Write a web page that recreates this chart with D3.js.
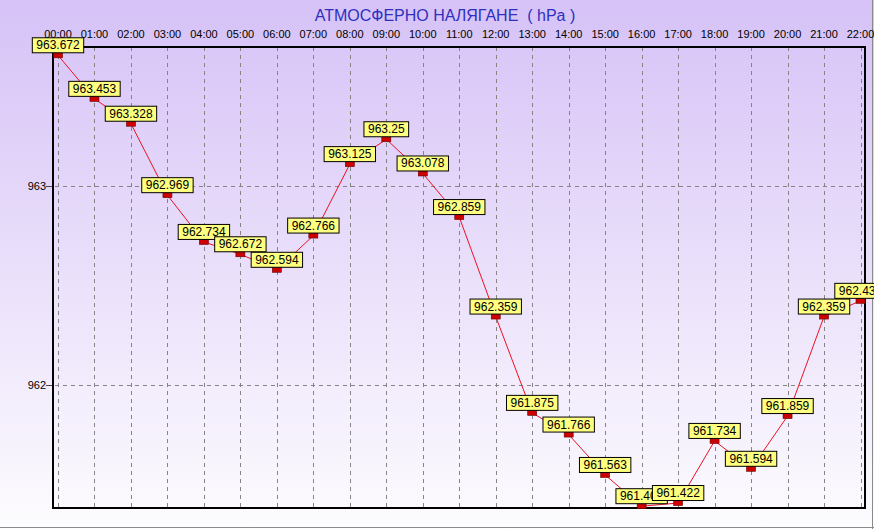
<!DOCTYPE html>
<html>
<head>
<meta charset="utf-8">
<script src="https://cdn.jsdelivr.net/npm/d3@7"></script>
<style>
  body { margin: 0; padding: 0; background: #fff; }
  svg { display: block; font-family: Arial, "Liberation Sans", sans-serif; }
</style>
</head>
<body>
<div id="chart"></div>
<script>
// hourly readings
var hours = ["00:00", "01:00", "02:00", "03:00", "04:00", "05:00", "06:00", "07:00",
             "08:00", "09:00", "10:00", "11:00", "12:00", "13:00", "14:00", "15:00",
             "16:00", "17:00", "18:00", "19:00", "20:00", "21:00", "22:00"];
var pressure = [963.672, 963.453, 963.328, 962.969, 962.734, 962.672, 962.594, 962.766,
                963.125, 963.25, 963.078, 962.859, 962.359, 961.875, 961.766, 961.563,
                961.406, 961.422, 961.734, 961.594, 961.859, 962.359, 962.438];
var yTicks = [962, 963];
var title = "АТМОСФЕРНО НАЛЯГАНЕ  ( hPa )";

var width = 874,
    height = 529;

var plot = {left: 53, top: 47, right: 865, bottom: 508};

var svg = d3.select("#chart")
  .append("svg")
  .attr("width", width)
  .attr("height", height);

var defs = svg.append("defs");
var grad = defs.append("linearGradient")
  .attr("id", "bg")
  .attr("x1", "0%").attr("y1", "0%")
  .attr("x2", "0%").attr("y2", "100%");
grad.append("stop").attr("offset", "0%").attr("stop-color", "#d6c2f7");
grad.append("stop").attr("offset", "100%").attr("stop-color", "#fdfcfe");

svg.append("rect")
  .attr("width", width)
  .attr("height", height)
  .style("fill", "url(#bg)");

// outer frame (right / bottom only)
svg.append("line")
  .attr("x1", width - 1.5).attr("x2", width - 1.5)
  .attr("y1", 0).attr("y2", height)
  .style("stroke", "#8a8a8a");
svg.append("line")
  .attr("x1", 0).attr("x2", width)
  .attr("y1", height - 1.5).attr("y2", height - 1.5)
  .style("stroke", "#8a8a8a");

var x = d3.scalePoint()
  .domain(hours)
  .range([58, 860.5]);

var y = d3.scaleLinear()
  .domain([962, 963])
  .range([385, 186]);

var markerDy = 3; // markers sit slightly under the value

// title
svg.append("text")
  .attr("x", 445)
  .attr("y", 21)
  .attr("text-anchor", "middle")
  .style("font-size", "16px")
  .style("fill", "#2f2fc0")
  .style("white-space", "pre")
  .attr("xml:space", "preserve")
  .text(title);

// grid
var grid = svg.append("g");
grid.selectAll(".vgrid")
  .data(hours)
  .enter()
  .append("line")
  .attr("x1", function(d) { return Math.round(x(d)) + 0.5; })
  .attr("x2", function(d) { return Math.round(x(d)) + 0.5; })
  .attr("y1", plot.top)
  .attr("y2", plot.bottom)
  .style("stroke", "#858585")
  .style("stroke-dasharray", "4,4");

grid.selectAll(".hgrid")
  .data(yTicks)
  .enter()
  .append("line")
  .attr("x1", plot.left - 6)
  .attr("x2", plot.right)
  .attr("y1", function(d) { return Math.round(y(d)) + 0.5; })
  .attr("y2", function(d) { return Math.round(y(d)) + 0.5; })
  .style("stroke", "#858585")
  .style("stroke-dasharray", "4,4");

// tick labels
svg.selectAll(".xlab")
  .data(hours)
  .enter()
  .append("text")
  .attr("x", function(d) { return x(d); })
  .attr("y", 38)
  .attr("text-anchor", "middle")
  .style("font-size", "11px")
  .style("fill", "#000")
  .text(function(d) { return d; });

svg.selectAll(".ylab")
  .data(yTicks)
  .enter()
  .append("text")
  .attr("x", 46)
  .attr("y", function(d) { return y(d) + 4; })
  .attr("text-anchor", "end")
  .style("font-size", "11px")
  .style("fill", "#000")
  .text(function(d) { return d3.format("d")(d); });

svg.selectAll(".ytick")
  .data(yTicks)
  .enter()
  .append("line")
  .attr("x1", 46).attr("x2", plot.left)
  .attr("y1", function(d) { return Math.round(y(d)) + 0.5; })
  .attr("y2", function(d) { return Math.round(y(d)) + 0.5; })
  .style("stroke", "#444");

// frame of plot
svg.append("rect")
  .attr("x", plot.left)
  .attr("y", plot.top)
  .attr("width", plot.right - plot.left)
  .attr("height", plot.bottom - plot.top)
  .style("fill", "none")
  .style("stroke", "#000")
  .style("stroke-width", 2);

// line
var line = d3.line()
  .x(function(d, i) { return x(hours[i]); })
  .y(function(d) { return y(d) + markerDy; });

svg.append("path")
  .datum(pressure)
  .attr("d", line)
  .style("fill", "none")
  .style("stroke", "#ee1020")
  .style("stroke-width", 1);

// markers and value boxes
var pts = svg.append("g")
  .selectAll("g")
  .data(pressure)
  .enter()
  .append("g")
  .attr("transform", function(d, i) {
    return "translate(" + x(hours[i]) + "," + (y(d) + markerDy) + ")";
  });

pts.append("rect")
  .attr("x", -4.5)
  .attr("y", -2.5)
  .attr("width", 9)
  .attr("height", 5)
  .style("fill", "#cc0000")
  .style("stroke", "#6a0000")
  .style("stroke-width", 0.6);

pts.each(function(d) {
  var g = d3.select(this);
  var lab = g.append("text")
    .attr("x", 0)
    .attr("y", -6)
    .attr("text-anchor", "middle")
    .style("font-size", "12px")
    .style("fill", "#000")
    .text(d3.format("")(d));
  var w = lab.node().getComputedTextLength() + 8;
  g.insert("rect", "text")
    .attr("x", -w / 2)
    .attr("y", -17.5)
    .attr("width", w)
    .attr("height", 15)
    .style("fill", "#ffff80")
    .style("stroke", "#000")
    .style("stroke-width", 1);
});
</script>
</body>
</html>
